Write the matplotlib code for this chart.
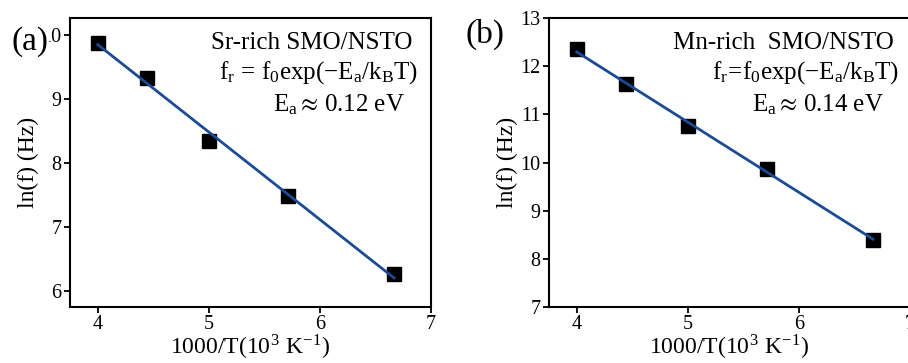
import matplotlib.pyplot as plt
import numpy as np

# 1000/T values (10^3 K^-1) for T = 250, 225, 200, 175, 150 K
inv_T = [4.0, 4.444, 5.0, 5.714, 6.667]

# ln(f)
lnf_sr = [9.88, 9.33, 8.35, 7.48, 6.26]
lnf_mn = [12.35, 11.62, 10.75, 9.87, 8.40]

panel_labels = ['(a)', '(b)']
titles = [
    [r'Sr-rich SMO/NSTO',
     r'$\mathregular{f_r\,=\,f_0exp(-E_a/k_BT)}$',
     r'$\mathregular{E_a}$$\approx$$\mathregular{\,0.12\ eV}$'],
    [r'Mn-rich  SMO/NSTO',
     r'$\mathregular{f_r\!=\!f_0exp(-E_a/k_BT)}$',
     r'$\mathregular{E_a}$$\approx$$\mathregular{\,0.14\ eV}$'],
]

plt.rcParams['font.family'] = ['Liberation Serif', 'DejaVu Serif']
plt.rcParams['mathtext.fontset'] = 'stix'

line_color = '#1b4a97'

fig = plt.figure(figsize=(9.08, 3.63), dpi=100)
ax_a = fig.add_axes([0.0771, 0.1543, 0.3976, 0.796])
ax_b = fig.add_axes([0.6046, 0.1543, 0.3976, 0.796])

for ax, y, ylim, yticks in [(ax_a, lnf_sr, (5.75, 10.27), [6, 7, 8, 9, 10]),
                            (ax_b, lnf_mn, (7, 13), [7, 8, 9, 10, 11, 12, 13])]:
    ax.plot(inv_T, y, 's', color='black', markersize=9.5, zorder=2)
    k, b = np.polyfit(inv_T, y, 1)
    xs = np.array([inv_T[0], inv_T[-1]])
    ax.plot(xs, k * xs + b, '-', color=line_color, linewidth=2.0, zorder=3)
    ax.set_xlim(3.75, 7)
    ax.set_ylim(*ylim)
    ax.set_xticks([4, 5, 6, 7])
    ax.set_yticks(yticks)
    ax.tick_params(direction='out', length=4, width=1.3, labelsize=14.5, pad=2)
    for s in ax.spines.values():
        s.set_linewidth(1.5)
    ax.set_xlabel(r'1000/T(10$^\mathregular{3}$ K$^\mathregular{-1}$)', fontsize=17, labelpad=-1)
    ax.set_ylabel('ln(f) (Hz)', fontsize=17, labelpad=2)

# annotations panel (a)
ax_a.text(0.947, 0.913, titles[0][0], transform=ax_a.transAxes, ha='right', va='center', fontsize=18)
ax_a.text(0.963, 0.81, titles[0][1], transform=ax_a.transAxes, ha='right', va='center', fontsize=18)
ax_a.text(0.928, 0.70, titles[0][2], transform=ax_a.transAxes, ha='right', va='center', fontsize=18)

# annotations panel (b)
ax_b.text(0.956, 0.913, titles[1][0], transform=ax_b.transAxes, ha='right', va='center', fontsize=18)
ax_b.text(0.970, 0.81, titles[1][1], transform=ax_b.transAxes, ha='right', va='center', fontsize=18)
ax_b.text(0.928, 0.70, titles[1][2], transform=ax_b.transAxes, ha='right', va='center', fontsize=18)

fig.text(0.013, 0.885, panel_labels[0], fontsize=24, ha='left', va='center', zorder=10,
         bbox=dict(facecolor='white', edgecolor='none', pad=0.3))
fig.text(0.513, 0.905, panel_labels[1], fontsize=24, ha='left', va='center')

fig.savefig('out.png', dpi=100)
